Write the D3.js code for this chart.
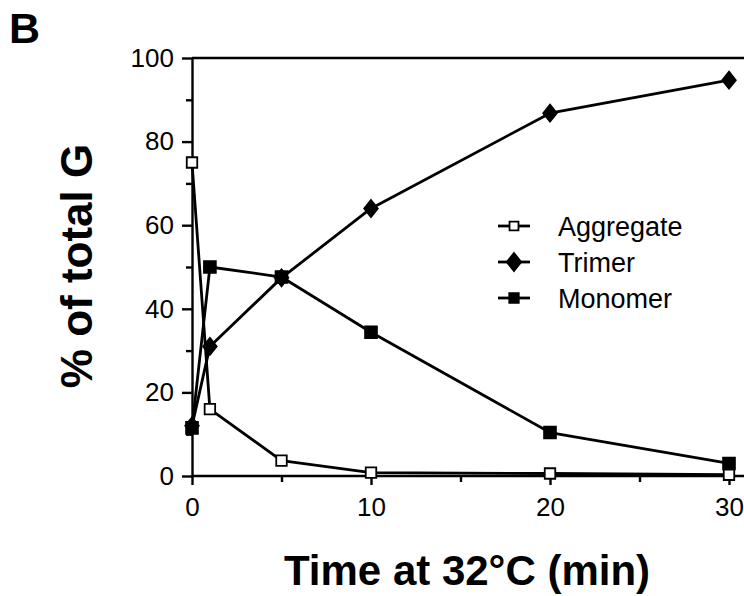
<!DOCTYPE html>
<html>
<head>
<meta charset="utf-8">
<script src="https://cdn.jsdelivr.net/npm/d3@7"></script>
<style>
    body { margin: 0; background: #fff; }
    svg { display: block; font-family: "Liberation Sans", Arial, Helvetica, sans-serif; }
    .line { fill: none; stroke: #000; stroke-width: 2.8; stroke-linejoin: round; }
    .axis path, .axis line { stroke: #000; stroke-width: 2.4; }
    .axis text { font-size: 26px; fill: #000; }
</style>
</head>
<body>
<div class="container"></div>
<script>
var times = [0, 1, 5, 10, 20, 30];
var aggregate = [75, 16, 3.7, 0.8, 0.6, 0.3];
var trimer = [12, 31, 47.4, 64, 86.8, 94.7];
var monomer = [11.5, 50, 47.6, 34.4, 10.4, 3];
var seriesNames = ['Aggregate', 'Trimer', 'Monomer'];

var xMajorTicks = [0, 10, 20, 30];
var xMinorTicks = [5, 15, 25];
var yMajorTicks = [0, 20, 40, 60, 80, 100];
var yMinorTicks = [10, 30, 50, 70, 90];

// diamond a bit wider than d3's default one; size = half height
var fatDiamond = {
    draw: function (context, size) {
        var h = size, w = size * 0.8;
        context.moveTo(0, -h);
        context.lineTo(w, 0);
        context.lineTo(0, h);
        context.lineTo(-w, 0);
        context.closePath();
    }
};

var drawChart = function () {

    var WIDTH = 744;
    var HEIGHT = 596;
    var LEFT = 192;
    var RIGHT = 729;
    var TOP = 58;
    var BOTTOM = 476;

    var xScale = d3.scaleLinear().domain([0, 30]).range([LEFT, RIGHT]);
    var yScale = d3.scaleLinear().domain([0, 100]).range([BOTTOM, TOP]);

    var svg = d3.select('.container')
        .append('svg')
        .attr('width', WIDTH)
        .attr('height', HEIGHT);

    // panel letter
    svg.append('text')
        .attr('x', 9)
        .attr('y', 43)
        .style('font-size', '43px')
        .style('font-weight', 'bold')
        .text('B');

    // top frame line and extended x baseline
    svg.append('line')
        .attr('x1', LEFT).attr('x2', WIDTH)
        .attr('y1', yScale(100)).attr('y2', yScale(100))
        .attr('stroke', '#000').attr('stroke-width', 2.4);

    svg.append('line')
        .attr('x1', LEFT).attr('x2', WIDTH)
        .attr('y1', yScale(0)).attr('y2', yScale(0))
        .attr('stroke', '#000').attr('stroke-width', 2.4);

    // y axis
    svg.append('g')
        .attr('class', 'axis')
        .attr('transform', 'translate(' + LEFT + ',0)')
        .call(d3.axisLeft(yScale).tickValues(yMajorTicks).tickSize(10).tickPadding(8).tickSizeOuter(0));

    svg.append('g')
        .attr('class', 'axis')
        .attr('transform', 'translate(' + LEFT + ',0)')
        .call(d3.axisLeft(yScale).tickValues(yMinorTicks).tickSize(6).tickFormat('').tickSizeOuter(0))
        .select('.domain').remove();

    // x axis
    svg.append('g')
        .attr('class', 'axis')
        .attr('transform', 'translate(0,' + BOTTOM + ')')
        .call(d3.axisBottom(xScale).tickValues(xMajorTicks).tickSize(9).tickPadding(13).tickSizeOuter(0))
        .select('.domain').remove();

    svg.append('g')
        .attr('class', 'axis')
        .attr('transform', 'translate(0,' + BOTTOM + ')')
        .call(d3.axisBottom(xScale).tickValues(xMinorTicks).tickSize(6).tickFormat('').tickSizeOuter(0))
        .select('.domain').remove();

    // axis titles
    svg.append('text')
        .attr('transform', 'translate(92,266) rotate(-90)')
        .attr('text-anchor', 'middle')
        .style('font-size', '44px')
        .style('font-weight', 'bold')
        .text('% of total G');

    svg.append('text')
        .attr('x', 467)
        .attr('y', 585)
        .attr('text-anchor', 'middle')
        .style('font-size', '42px')
        .style('font-weight', 'bold')
        .text('Time at 32\u00B0C (min)');

    var line = d3.line()
        .x(function (d, i) { return xScale(times[i]); })
        .y(function (d) { return yScale(d); });

    var square = d3.symbol().type(d3.symbolSquare).size(110);
    var bigSquare = d3.symbol().type(d3.symbolSquare).size(140);
    var diamond = d3.symbol().type(fatDiamond).size(8.5);

    var series = [
        {name: seriesNames[2], values: monomer, shape: bigSquare, legendShape: d3.symbol().type(d3.symbolSquare).size(90), fill: '#000'},
        {name: seriesNames[1], values: trimer, shape: diamond, legendShape: d3.symbol().type(fatDiamond).size(9), fill: '#000'},
        {name: seriesNames[0], values: aggregate, shape: square, legendShape: d3.symbol().type(d3.symbolSquare).size(80), fill: '#fff'}
    ];

    series.forEach(function (s) {
        svg.append('path')
            .attr('d', line(s.values))
            .classed('line', true);
    });

    series.forEach(function (s) {
        svg.append('g')
            .selectAll('path')
            .data(s.values)
            .enter()
            .append('path')
            .attr('transform', function (d, i) {
                return 'translate(' + xScale(times[i]) + ',' + yScale(d) + ')';
            })
            .attr('d', s.shape())
            .attr('fill', s.fill)
            .attr('stroke', '#000')
            .attr('stroke-width', 1.8);
    });

    // legend
    var legendOrder = [series[2], series[1], series[0]];
    var legend = svg.append('g').attr('transform', 'translate(498,226)');
    legendOrder.forEach(function (s, i) {
        var row = legend.append('g').attr('transform', 'translate(0,' + (i * 36) + ')');
        row.append('line')
            .attr('x1', 0).attr('x2', 32)
            .attr('stroke', '#000').attr('stroke-width', 2.8);
        row.append('path')
            .attr('transform', 'translate(16,0)')
            .attr('d', s.legendShape())
            .attr('fill', s.fill)
            .attr('stroke', '#000')
            .attr('stroke-width', 1.8);
        row.append('text')
            .attr('x', 60)
            .attr('y', 10)
            .style('font-size', '27px')
            .text(s.name);
    });
};

window.onload = drawChart;
</script>
</body>
</html>
